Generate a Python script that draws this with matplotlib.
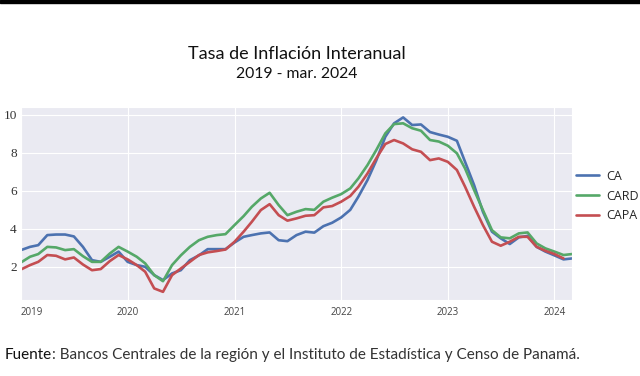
import numpy as np
import pandas as pd
import matplotlib
matplotlib.use("Agg")
import matplotlib.pyplot as plt
import seaborn as sns
from matplotlib.patches import Rectangle

# monthly year-on-year inflation, Jan 2019 - Mar 2024
months = pd.date_range("2019-01-01", "2024-03-01", freq="MS")

ca = [2.88, 3.05, 3.14, 3.67, 3.70, 3.70, 3.60, 3.05, 2.35, 2.26, 2.53, 2.80,
      2.26, 2.09, 2.00, 1.56, 1.30, 1.65, 1.82, 2.35, 2.60, 2.93, 2.93, 2.93,
      3.28, 3.58, 3.67, 3.76, 3.81, 3.40, 3.35, 3.67, 3.85, 3.80, 4.14, 4.32,
      4.60, 5.00, 5.70, 6.57, 7.60, 8.85, 9.56, 9.87, 9.47, 9.50, 9.10, 8.97,
      8.85, 8.64, 7.53, 6.30, 4.90, 3.85, 3.50, 3.20, 3.55, 3.63, 3.05, 2.80,
      2.60, 2.39, 2.44]

card = [2.23, 2.53, 2.67, 3.05, 3.02, 2.88, 2.93, 2.56, 2.26, 2.26, 2.70, 3.05,
        2.80, 2.53, 2.18, 1.56, 1.24, 2.09, 2.60, 3.05, 3.40, 3.58, 3.67, 3.72,
        4.20, 4.67, 5.16, 5.60, 5.90, 5.25, 4.72, 4.90, 5.04, 5.00, 5.43, 5.64,
        5.83, 6.13, 6.66, 7.36, 8.15, 9.03, 9.52, 9.56, 9.30, 9.17, 8.68, 8.60,
        8.38, 7.98, 7.18, 6.04, 4.99, 3.93, 3.55, 3.50, 3.76, 3.81, 3.23, 2.97,
        2.80, 2.62, 2.67]

capa = [1.86, 2.09, 2.26, 2.62, 2.58, 2.39, 2.49, 2.12, 1.82, 1.88, 2.30, 2.62,
        2.39, 2.09, 1.74, 0.86, 0.68, 1.56, 1.91, 2.26, 2.62, 2.76, 2.83, 2.91,
        3.32, 3.85, 4.37, 4.99, 5.30, 4.72, 4.43, 4.55, 4.69, 4.72, 5.13, 5.20,
        5.43, 5.73, 6.22, 6.92, 7.71, 8.47, 8.68, 8.50, 8.19, 8.06, 7.62, 7.71,
        7.53, 7.10, 6.22, 5.16, 4.20, 3.32, 3.11, 3.32, 3.58, 3.58, 3.05, 2.84,
        2.67, 2.44, np.nan]

series = [("CA", ca), ("CARD", card), ("CAPA", capa)]
years = [2019, 2020, 2021, 2022, 2023, 2024]
yticks = [2, 4, 6, 8, 10]

sns.set_style("darkgrid")
colors = sns.color_palette("deep")
line_colors = [colors[0], colors[2], colors[3]]

fig = plt.figure(figsize=(6.4, 3.76), dpi=100)
ax = fig.add_axes([21 / 640, 1 - 300 / 376, 551 / 640, 193 / 376])

for (name, vals), c in zip(series, line_colors):
    ax.plot(months, vals, color=c, lw=1.9, label=name)

ax.set_xlim(months[0], months[-1])
ax.set_ylim(0.25, 10.42)
ax.set_yticks(yticks)
ax.set_yticklabels([str(v) for v in yticks],
                   family="Liberation Serif", fontsize=9.5, color="#333333")
ax.set_xticks([pd.Timestamp(f"{y}-01-01") for y in years])
ax.set_xticklabels([str(y) for y in years], family="Open Sans",
                   fontsize=7, color="#444444")
ax.tick_params(axis="both", length=0)
ax.tick_params(axis="x", pad=5)
ax.tick_params(axis="y", pad=3)
# first year label sits inside the axes, like the original
ax.get_xticklabels()[0].set_horizontalalignment("left")

fig.legend(loc="center left", bbox_to_anchor=(576 / 640, 1 - 196 / 376),
           frameon=False, prop={"family": "Open Sans", "size": 9},
           handlelength=1.8, handletextpad=0.6, labelspacing=0.55,
           borderpad=0, borderaxespad=0)

fig.text(297 / 640, 1 - 54 / 376, "Tasa de Inflación Interanual",
         ha="center", va="center", family="Lato", fontsize=13, color="#111111")
fig.text(297 / 640, 1 - 74 / 376, "2019 - mar. 2024",
         ha="center", va="center", family="Lato", fontsize=11.3, color="#111111")

fig.text(5 / 640, 1 - 355 / 376, "Fuente", ha="left", va="center",
         family="Lato", fontsize=11, color="#111111")
fig.text(52 / 640, 1 - 355 / 376,
         ": Bancos Centrales de la región y el Instituto de Estadística y Censo de Panamá.",
         ha="left", va="center", family="Lato", fontsize=11, color="#333333")

fig.patches.append(Rectangle((0, 1 - 2.5 / 376), 1, 2.5 / 376,
                             transform=fig.transFigure, color="black"))

fig.savefig("out.png", dpi=100)
